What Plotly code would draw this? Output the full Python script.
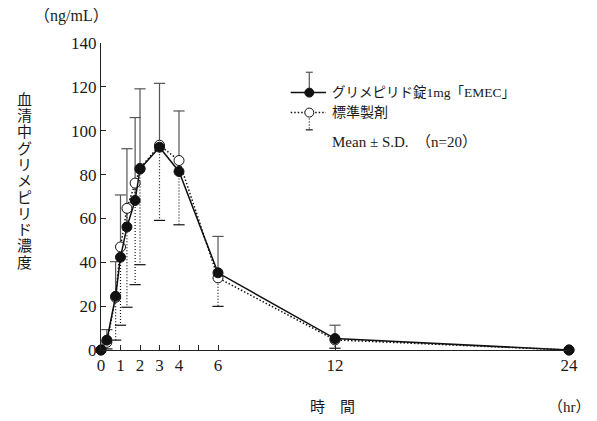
import plotly.graph_objects as go

# ---------------- data ----------------
time_hr = [0, 0.3, 0.75, 1, 1.33, 1.75, 2, 3, 4, 6, 12, 24]
test_mean = [0, 4.5, 24.5, 42.3, 56.1, 68.2, 82.5, 92.5, 81.4, 35.2, 5.2, 0]
test_sd = [0, 4.8, 15.8, 28.4, 35.7, 37.8, 36.6, 29.1, 27.6, 16.6, 6.1, 0]
ref_mean = [0, 3.5, 24.0, 47.0, 64.6, 76.1, 82.8, 93.4, 86.4, 32.9, 4.6, 0]
ref_sd = [0, 3.0, 19.5, 35.7, 45.1, 46.3, 43.9, 34.3, 29.3, 13.0, 3.8, 0]

test_name = "グリメピリド錠1mg「EMEC」"
ref_name = "標準製剤"
stat_note = "Mean ± S.D.　（n=20）"
y_title = "血清中グリメピリド濃度"
x_title = "時　間"
x_unit = "（hr）"
y_unit = "（ng/mL）"

x_tick_vals = [0, 1, 2, 3, 4, 5, 6, 12, 24]
x_tick_text = ["0", "1", "2", "3", "4", "", "6", "12", "24"]
y_tick_vals = [0, 20, 40, 60, 80, 100, 120, 140]

# ---------------- layout geometry (page pixels) ----------------
OX, OY = 8, 8            # page body margin offset
PAGE_W, PAGE_H = 597, 421
W, H = PAGE_W - OX, PAGE_H - OY
L_PX, R_PX, T_PX, B_PX = 101, 569, 43, 350.5   # plot area in page pixels
ML, MT = L_PX - OX, T_PX - OY
MR, MB = W - (R_PX - OX), H - (B_PX - OY)
PW, PH = R_PX - L_PX, B_PX - T_PX

def px(x):
    return (x - L_PX) / PW

def py(y):
    return (B_PX - y) / PH

SERIF = "Liberation Serif, Noto Sans CJK JP, serif"
TXT = "#1a1a1a"
DOT_FINE = "1px,2px"
DOT_LINE = "1.5px,2px"

fig = go.Figure()

def bar_trace(t, m, sd, direction, dash, color):
    xs, ys, cx, cy = [], [], [], []
    for ti, mi, si in zip(t, m, sd):
        if si <= 0:
            continue
        end = mi + direction * si
        xs += [ti, ti, None]
        ys += [mi, end, None]
        cx.append(ti)
        cy.append(end)
    fig.add_trace(go.Scatter(x=xs, y=ys, mode="lines", line=dict(color=color, width=1.2, dash=dash),
                             showlegend=False, hoverinfo="skip", cliponaxis=False))
    fig.add_trace(go.Scatter(x=cx, y=cy, mode="markers",
                             marker=dict(symbol="line-ew", size=8, line=dict(color=color, width=1.2)),
                             showlegend=False, hoverinfo="skip", cliponaxis=False))

bar_trace(time_hr, test_mean, test_sd, +1, "solid", "#555")
bar_trace(time_hr, ref_mean, ref_sd, -1, DOT_FINE, "#111")

fig.add_trace(go.Scatter(x=time_hr, y=ref_mean, mode="lines+markers", name=ref_name,
                         line=dict(color="#111", width=1.5, dash=DOT_LINE),
                         marker=dict(symbol="circle", size=10, color="white", line=dict(color="#111", width=1)),
                         showlegend=False, cliponaxis=False))
fig.add_trace(go.Scatter(x=time_hr, y=test_mean, mode="lines+markers", name=test_name,
                         line=dict(color="#111", width=1.5),
                         marker=dict(symbol="circle", size=10, color="#111", line=dict(color="#111", width=1)),
                         showlegend=False, cliponaxis=False))

# ---------------- custom legend ----------------
shapes = []
def circle(cx, cy, r, fill):
    shapes.append(dict(type="circle", xref="paper", yref="paper",
                       x0=px(cx - r), x1=px(cx + r), y0=py(cy + r), y1=py(cy - r),
                       fillcolor=fill, line=dict(color="#111", width=1), layer="above"))

def seg(x0, y0, x1, y1, dash="solid", color="#111", w=1.2):
    shapes.append(dict(type="line", xref="paper", yref="paper",
                       x0=px(x0), x1=px(x1), y0=py(y0), y1=py(y1),
                       line=dict(color=color, width=w, dash=dash), layer="above"))

# row 1 (test)
seg(309.3, 92.7, 309.3, 72.3, color="#555", w=1.2)
seg(305.8, 72.3, 312.8, 72.3, color="#555", w=1.2)
seg(290.7, 92.7, 326, 92.7, w=1.5)
circle(309.3, 92.7, 4.5, "#111")
# row 2 (reference)
seg(309.3, 112.7, 309.3, 130, dash=DOT_FINE, w=1.2)
seg(305.8, 130, 312.8, 130, w=1.2)
seg(290.7, 112.7, 326, 112.7, dash=DOT_LINE, w=1.5)
circle(309.3, 112.7, 4.5, "white")

annotations = []
def text(x, y, s, size, anchor="left"):
    annotations.append(dict(x=px(x), y=py(y), xref="paper", yref="paper", text=s, showarrow=False,
                            xanchor=anchor, yanchor="middle",
                            font=dict(family=SERIF, size=size, color=TXT)))

text(330, 93, test_name, 13.5)
text(330, 113, ref_name, 14)
text(330, 142, stat_note, 15)
text(71, 16, y_unit, 16, "center")
text(332, 408, x_title, 15, "center")
text(569, 408, x_unit, 15, "center")

for i, ch in enumerate(y_title):
    text(24, 100 + i * 16.3, ch, 15, "center")

fig.update_layout(
    width=W, height=H, autosize=False,
    margin=dict(l=ML, r=MR, t=MT, b=MB, pad=0),
    paper_bgcolor="white", plot_bgcolor="white",
    shapes=shapes, annotations=annotations,
    xaxis=dict(range=[0, 24], tickvals=x_tick_vals, ticktext=x_tick_text,
               showline=True, linecolor="#222", linewidth=1, ticks="inside", ticklen=5,
               tickcolor="#222", showgrid=False, zeroline=False,
               tickfont=dict(family=SERIF, size=17, color=TXT)),
    yaxis=dict(range=[0, 140], tickvals=y_tick_vals,
               showline=True, linecolor="#222", linewidth=1, ticks="inside", ticklen=5,
               tickcolor="#222", showgrid=False, zeroline=False, ticklabelstandoff=0,
               tickfont=dict(family=SERIF, size=17, color=TXT)),
)

fig.write_html("out.html")
